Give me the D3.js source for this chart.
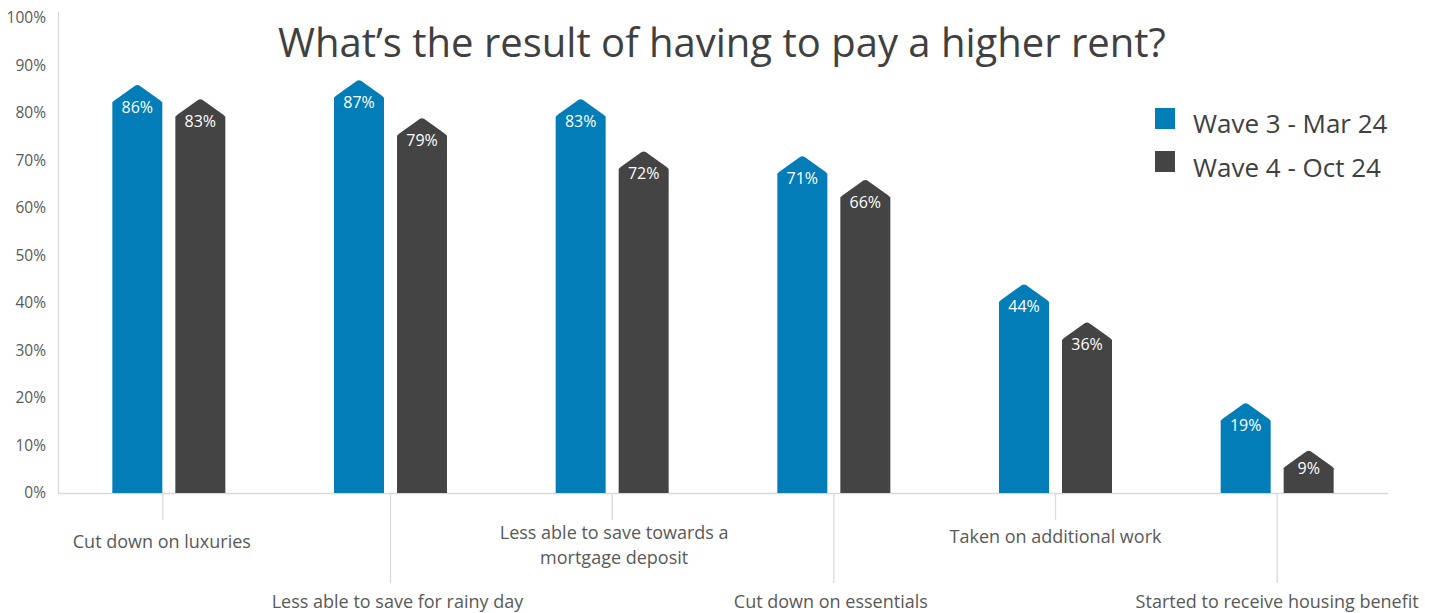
<!DOCTYPE html>
<html>
<head>
<meta charset="utf-8">
<script src="https://cdn.jsdelivr.net/npm/d3@7"></script>
<style>
  html, body { margin: 0; padding: 0; background: #fff; }
  svg { display: block; font-family: "Open Sans", "Noto Sans", sans-serif; }
</style>
</head>
<body>
<svg id="chart" width="1440" height="613"></svg>
<script>
// Survey answers, two waves
const categories = [
  "Cut down on luxuries",
  "Less able to save for rainy day",
  "Less able to save towards a mortgage deposit",
  "Cut down on essentials",
  "Taken on additional work",
  "Started to receive housing benefit"
];
const seriesNames = ["Wave 3 - Mar 24", "Wave 4 - Oct 24"];
const wave3 = [86, 87, 83, 71, 44, 19];
const wave4 = [83, 79, 72, 66, 36, 9];
const yTicks = [0, 10, 20, 30, 40, 50, 60, 70, 80, 90, 100];
const colors = ["#027db8", "#444444"];
const title = "What\u2019s the result of having to pay a higher rent?";

// Wrapped lines for long category labels
const labelLines = {
  "Less able to save towards a mortgage deposit": ["Less able to save towards a", "mortgage deposit"]
};

const svg = d3.select("#chart");
const plotL = 58, plotR = 1388, plotT = 18, plotB = 493;

const x0 = d3.scaleBand().domain(categories).range([plotL, plotR]).padding(0);
const x1 = d3.scaleBand().domain(seriesNames).range([-56.5, 56.5]).paddingInner(13 / 63).paddingOuter(0);
const y = d3.scaleLinear().domain([0, 100]).range([plotB, plotT]);

// Title
svg.append("text")
  .attr("x", 722).attr("y", 57)
  .attr("text-anchor", "middle")
  .attr("font-size", 40)
  .attr("fill", "#404040")
  .text(title);

// Y axis
const yAxis = d3.axisLeft(y).tickValues(yTicks).tickFormat(d => d + "%").tickSize(0).tickPadding(12);
const gy = svg.append("g").attr("transform", `translate(${plotL},0)`).call(yAxis);
gy.select(".domain").attr("stroke", "#d9d9d9").attr("stroke-width", 1.3).attr("d", `M0.5,${plotT - 6}V${plotB}`);
gy.selectAll(".tick text").attr("font-size", 15.5).attr("fill", "#595959")
  .attr("font-family", "'Open Sans', sans-serif");

// X axis baseline
svg.append("line")
  .attr("x1", plotL).attr("x2", plotR)
  .attr("y1", plotB + 0.5).attr("y2", plotB + 0.5)
  .attr("stroke", "#d9d9d9").attr("stroke-width", 1.5);

// Staggered category labels with leader ticks
const labelNudge = [-7, 7, 2, -3, 0, 0];
const tickNudge = [-6, 0, 0, 0, 0, 0];
const lineGap = 24.5;
const gx = svg.append("g");
categories.forEach((c, i) => {
  const cx = x0(c) + x0.bandwidth() / 2;
  const lower = i % 2 === 1;
  gx.append("line")
    .attr("x1", cx + tickNudge[i]).attr("x2", cx + tickNudge[i])
    .attr("y1", plotB).attr("y2", lower ? 583 : 520)
    .attr("stroke", "#d9d9d9").attr("stroke-width", 1.3);
  const lines = labelLines[c] || [c];
  const baseY = lower ? 608 : (i === 0 ? 548 : (lines.length > 1 ? 539 : 543));
  lines.forEach((ln, j) => {
    gx.append("text")
      .attr("x", cx + labelNudge[i]).attr("y", baseY + j * lineGap)
      .attr("text-anchor", "middle")
      .attr("font-size", 18)
      .attr("fill", "#595959")
      .text(ln);
  });
});

// Arrow-topped bars
const arrowH = 16, bevel = 2;
function barPath(xl, w, v) {
  const yp = y(v), ys = yp + arrowH, yb = y(0);
  const cx = xl + w / 2;
  return `M${xl},${yb}L${xl},${ys + bevel}L${xl + bevel},${ys}L${cx - 2},${yp + 1}` +
         `Q${cx},${yp} ${cx + 2},${yp + 1}L${xl + w - bevel},${ys}L${xl + w},${ys + bevel}L${xl + w},${yb}Z`;
}

const rows = categories.map((c, i) => ({ c, vals: [wave3[i], wave4[i]] }));
const groups = svg.append("g").selectAll("g").data(rows).join("g")
  .attr("transform", d => `translate(${x0(d.c) + x0.bandwidth() / 2},0)`);

groups.selectAll("path").data(d => d.vals.map((v, k) => ({ v, k }))).join("path")
  .attr("d", d => barPath(x1(seriesNames[d.k]), x1.bandwidth(), d.v))
  .attr("fill", d => colors[d.k]);

groups.selectAll("text").data(d => d.vals.map((v, k) => ({ v, k }))).join("text")
  .attr("x", d => x1(seriesNames[d.k]) + x1.bandwidth() / 2)
  .attr("y", d => y(d.v) + (d.v < 15 ? 24 : 28))
  .attr("text-anchor", "middle")
  .attr("font-size", 16)
  .attr("fill", "#ffffff")
  .text(d => d.v + "%");

// Legend
const lg = svg.append("g").attr("transform", "translate(1155,108)");
seriesNames.forEach((s, k) => {
  lg.append("rect").attr("x", 0).attr("y", k * 43).attr("width", 20).attr("height", 21).attr("fill", colors[k]);
  lg.append("text").attr("x", 38).attr("y", k * 44 + 25)
    .attr("font-size", 26).attr("fill", "#404040").text(s);
});
</script>
</body>
</html>
